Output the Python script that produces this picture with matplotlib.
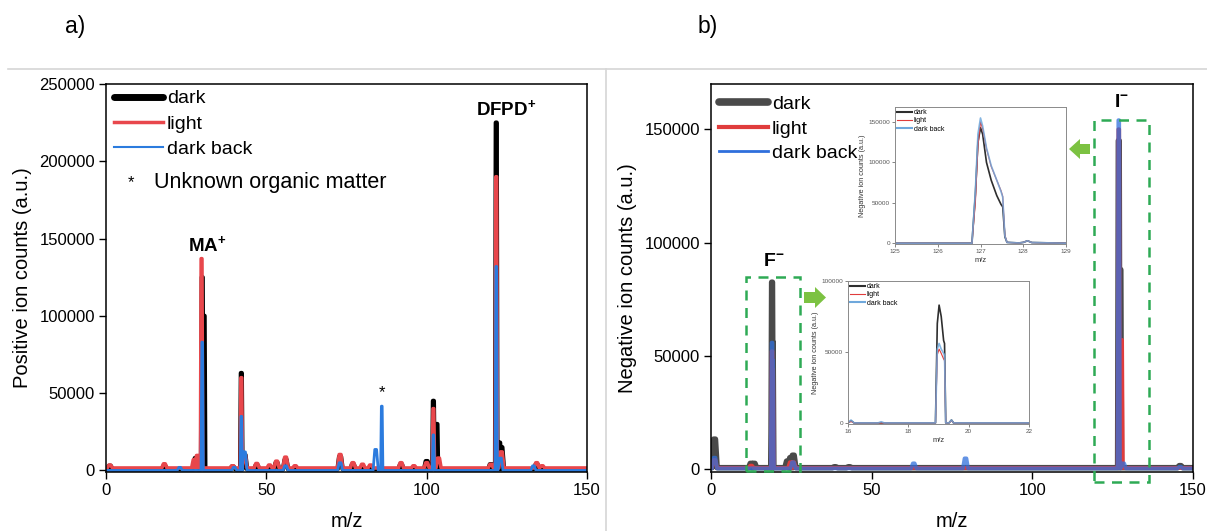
import matplotlib
matplotlib.use("Agg")
import matplotlib.pyplot as plt
from matplotlib.patches import Rectangle, Polygon
from matplotlib.lines import Line2D
from matplotlib.transforms import IdentityTransform

plt.rcParams['font.family'] = ['Liberation Sans', 'DejaVu Sans']
plt.rcParams['mathtext.fontset'] = 'custom'
plt.rcParams['mathtext.rm'] = 'Liberation Sans'
plt.rcParams['mathtext.bf'] = 'Liberation Sans:bold'

# ---------------- data: positive ion spectrum (panel a) ----------------
pos_dark_mz     = [1.2, 18.2, 28.0, 30.0, 30.6, 39.5, 42.2, 43.2, 47.0, 53.2, 56.0, 73.0, 77.0, 92.0, 100.0, 102.1, 103.2, 120.0, 121.7, 122.6, 123.3, 134.3]
pos_dark_counts = [3000, 3000, 8000, 125000, 100000, 2500, 63000, 10000, 3500, 5000, 7000, 9000, 4000, 4000, 6000, 45000, 30000, 4000, 225000, 18000, 15000, 4000]
pos_light_mz     = [1.2, 18.2, 27.5, 28.5, 29.8, 39.5, 42.2, 43.2, 47.0, 51.0, 53.2, 56.0, 59.0, 73.0, 77.0, 80.0, 82.5, 92.0, 96.0, 100.0, 102.1, 103.7, 120.0, 121.7, 123.3, 134.3, 136.0]
pos_light_counts = [3500, 4300, 7000, 9700, 137000, 3000, 60000, 10000, 4500, 3500, 6000, 8600, 3000, 10300, 5000, 4000, 3500, 5000, 3000, 5000, 40000, 8000, 4000, 190000, 12000, 5000, 3000]
pos_back_mz     = [23.0, 30.0, 40.0, 42.2, 43.2, 56.0, 73.0, 84.1, 86.0, 102.1, 121.7, 123.0, 133.3]
pos_back_counts = [2000, 83000, 2000, 35000, 12000, 3000, 5000, 13600, 41600, 23000, 132000, 8000, 3000]
pos_baseline = {'dark': 800, 'light': 1600, 'back': 0}

# ---------------- data: negative ion spectrum (panel b) ----------------
neg_dark_mz     = [1.1, 12.5, 13.4, 19.0, 19.2, 23.8, 24.8, 25.6, 38.6, 43.0, 126.9, 127.4, 146.0]
neg_dark_counts = [13200, 2500, 2500, 82500, 56000, 3500, 5000, 6100, 1000, 1000, 145000, 88000, 1500]
neg_light_mz     = [1.1, 12.5, 19.0, 19.2, 24.8, 25.6, 126.9, 127.8]
neg_light_counts = [4000, 1500, 52000, 44000, 3000, 3000, 150000, 57000]
neg_back_mz     = [1.1, 19.0, 19.2, 25.5, 63.1, 79.2, 126.9, 128.3, 146.0]
neg_back_counts = [5000, 55800, 48000, 3000, 2500, 4700, 154000, 2500, 1000]
neg_baseline = {'dark': 600, 'light': 500, 'back': 300}

# ---------------- inset: I- region ----------------
insI_mz          = [125.0, 126.80, 126.88, 126.94, 127.00, 127.05, 127.14, 127.25, 127.38, 127.48, 127.52, 127.57, 127.62, 127.9, 128.0, 128.1, 128.2, 129.0]
insI_dark_counts = [0, 0, 60000, 125000, 143000, 135000, 100000, 78000, 59000, 48000, 45000, 8000, 1000, 300, 1000, 3000, 800, 0]
insI_light_counts= [0, 0, 50000, 120000, 150000, 142000, 117000, 95000, 78000, 65000, 58000, 10000, 1000, 300, 1000, 3000, 800, 0]
insI_back_counts = [0, 0, 65000, 135000, 155000, 145000, 118000, 96000, 78000, 64000, 57000, 9000, 1000, 300, 1000, 3000, 800, 0]

# ---------------- inset: F- region ----------------
insF_mz          = [16.0, 16.1, 16.2, 17.0, 17.1, 17.2, 18.9, 18.96, 19.02, 19.09, 19.17, 19.2, 19.24, 19.35, 19.43, 19.5, 22.0]
insF_dark_counts = [0, 1500, 0, 0, 0, 0, 0, 70000, 83000, 75000, 58000, 56000, 0, 0, 2000, 0, 0]
insF_light_counts= [0, 1000, 0, 0, 0, 0, 0, 48000, 52000, 49000, 45000, 44000, 0, 0, 1500, 0, 0]
insF_back_counts = [0, 2000, 0, 0, 800, 0, 0, 52000, 56000, 52000, 49000, 48000, 0, 0, 2000, 0, 0]

series_labels = ['dark', 'light', 'dark back']


def profile(mz, counts, base, xmax=150.0):
    """Turn a peak list into a line that returns to the baseline between peaks."""
    xs, ys = [0.0], [base]
    for m, c in sorted(zip(mz, counts)):
        w = 0.35 if c > 20000 else 0.8
        xs += [m - w, m - w * 0.35, m + w * 0.35, m + w]
        ys += [base, c, c, base]
    xs.append(xmax)
    ys.append(base)
    return xs, ys


W, H = 1207, 531
fig = plt.figure(figsize=(W / 100, H / 100), dpi=100)

def fx(px):
    return px / W

def fy(py):
    return 1 - py / H

# separators and panel letters
fig.add_artist(Line2D([fx(8), 1], [fy(69), fy(69)], color='#d6d6d6', lw=1.2))
fig.add_artist(Line2D([fx(606), fx(606)], [fy(69), 0], color='#d6d6d6', lw=1.2))
fig.text(fx(75), fy(27), 'a)', fontsize=16.5, ha='center', va='center')
fig.text(fx(708), fy(27), 'b)', fontsize=16.5, ha='center', va='center')

tick_fs = 12
lab_fs = 14.5

def style_main(ax):
    ax.tick_params(direction='out', length=5, width=1, labelsize=tick_fs, pad=3,
                   top=False, right=False)
    for s in ax.spines.values():
        s.set_linewidth(1.1)
    ax.ticklabel_format(axis='y', style='plain', useOffset=False)
    ax.set_xlim(0, 150)
    ax.set_xticks([0, 50, 100, 150])
    ax.set_xlabel('m/z', fontsize=lab_fs, labelpad=10)

# ---------------- panel a ----------------
axa = fig.add_axes([fx(106), fy(472), fx(587) - fx(106), fy(84) - fy(472)])
c_dark_a, c_light_a, c_back_a = '#000000', '#e8474c', '#2b7bde'
x, y = profile(pos_dark_mz, pos_dark_counts, pos_baseline['dark'])
axa.plot(x, y, color=c_dark_a, lw=3.2, solid_joinstyle='round')
x, y = profile(pos_light_mz, pos_light_counts, pos_baseline['light'])
axa.plot(x, y, color=c_light_a, lw=2.6, solid_joinstyle='round')
x, y = profile(pos_back_mz, pos_back_counts, pos_baseline['back'])
axa.plot(x, y, color=c_back_a, lw=2.0, solid_joinstyle='round')
axa.set_ylim(-1000, 250000)
axa.set_yticks([0, 50000, 100000, 150000, 200000, 250000])
style_main(axa)
axa.set_ylabel('Positive ion counts (a.u.)', fontsize=lab_fs, labelpad=5)

hands_a = [Line2D([], [], color=c_dark_a, lw=5, solid_capstyle='round'),
           Line2D([], [], color=c_light_a, lw=2.5),
           Line2D([], [], color=c_back_a, lw=1.5)]
axa.legend(hands_a, series_labels, loc='upper left', bbox_to_anchor=(0.005, 1.0),
           frameon=False, fontsize=14, handlelength=2.5, handletextpad=0.2,
           labelspacing=0.4, borderpad=0.3, borderaxespad=0)
axa.text(0.052, 0.745, '*', transform=axa.transAxes, fontsize=12, ha='center', va='center')
axa.text(0.1, 0.745, 'Unknown organic matter', transform=axa.transAxes, fontsize=15.5,
         ha='left', va='center')
axa.text(31.5, 146000, r'$\mathbf{MA^{+}}$', fontsize=13.5, ha='center', va='center')
axa.text(124.8, 234000, r'$\mathbf{DFPD^{+}}$', fontsize=13.5, ha='center', va='center')
axa.text(86.2, 50400, '*', fontsize=12, ha='center', va='center')

# ---------------- panel b ----------------
axb = fig.add_axes([fx(711), fy(472), fx(1193) - fx(711), fy(84) - fy(472)])
c_dark_b, c_light_b, c_back_b = '#4a4a4a', '#e03c3c', '#2f6fdc'
x, y = profile(neg_dark_mz, neg_dark_counts, neg_baseline['dark'])
axb.plot(x, y, color=c_dark_b, lw=4.0, solid_joinstyle='round')
x, y = profile(neg_light_mz, neg_light_counts, neg_baseline['light'])
axb.plot(x, y, color=c_light_b, lw=2.8, solid_joinstyle='round')
x, y = profile(neg_back_mz, neg_back_counts, neg_baseline['back'])
axb.plot(x, y, color=c_back_b, lw=2.8, alpha=0.75, solid_joinstyle='round')
axb.set_ylim(-1300, 170000)
axb.set_yticks([0, 50000, 100000, 150000])
style_main(axb)
axb.set_ylabel('Negative ion counts (a.u.)', fontsize=lab_fs, labelpad=5)

hands_b = [Line2D([], [], color=c_dark_b, lw=5.5, solid_capstyle='round'),
           Line2D([], [], color=c_light_b, lw=3),
           Line2D([], [], color=c_back_b, lw=2)]
axb.legend(hands_b, series_labels, loc='upper left', bbox_to_anchor=(0.005, 0.985),
           frameon=False, fontsize=14, handlelength=2.5, handletextpad=0.2,
           labelspacing=0.35, borderpad=0.3, borderaxespad=0)

green = '#2eaa55'
axb.add_patch(Rectangle((10.8, -1000), 17.0, 86000, fill=False, ec=green, lw=1.8,
                        ls=(0, (4, 3)), clip_on=False, zorder=5))
axb.add_patch(Rectangle((119.1, -5700), 17.1, 159700, fill=False, ec=green, lw=1.8,
                        ls=(0, (4, 3)), clip_on=False, zorder=5))
axb.text(19.4, 91500, r'$\mathbf{F^{-}}$', fontsize=14, ha='center', va='center')
axb.text(127.8, 162000, r'$\mathbf{I^{-}}$', fontsize=14, ha='center', va='center')

# arrows (pixel coordinates)
agreen = '#7cc242'
def arrow_poly(pts):
    fig.add_artist(Polygon([(px, H - py) for px, py in pts], closed=True,
                           transform=IdentityTransform(), fc=agreen, ec='none'))
arrow_poly([(804, 292), (815, 292), (815, 287), (826, 297.5), (815, 308), (815, 303), (804, 303)])
arrow_poly([(1090, 144), (1080, 144), (1080, 139), (1069, 149), (1080, 159), (1080, 154), (1090, 154)])

# ---------------- insets ----------------
ins_fs = 4.6
def style_inset(ax):
    for s in ax.spines.values():
        s.set_color('#8a8a8a')
        s.set_linewidth(0.7)
    ax.tick_params(direction='out', length=2, width=0.5, labelsize=ins_fs, pad=1.5,
                   colors='#555555')
    ax.ticklabel_format(axis='y', style='plain', useOffset=False)
    ax.set_xlabel('m/z', fontsize=5.5, labelpad=2, color='#333333')
    ax.set_ylabel('Negative ion counts (a.u.)', fontsize=5.2, labelpad=2, color='#333333')

ins_colors = ['#2e2e2e', '#e03c3c', '#6fa8dc']

axi = fig.add_axes([fx(895), fy(244), fx(1066) - fx(895), fy(107) - fy(244)])
axi.plot(insI_mz, insI_dark_counts, color=ins_colors[0], lw=1.2)
axi.plot(insI_mz, insI_light_counts, color=ins_colors[1], lw=0.8)
axi.plot(insI_mz, insI_back_counts, color=ins_colors[2], lw=1.2, alpha=0.85)
axi.set_xlim(125, 129)
axi.set_xticks([125, 126, 127, 128, 129])
axi.set_ylim(-1000, 168600)
axi.set_yticks([0, 50000, 100000, 150000])
style_inset(axi)
axi.legend([Line2D([], [], color=c, lw=w) for c, w in zip(ins_colors, [1.5, 0.8, 1.5])],
           series_labels, loc='upper left', frameon=False, fontsize=5,
           handlelength=2.2, handletextpad=0.2, labelspacing=0.2, borderpad=0.2,
           borderaxespad=0.1)

axf = fig.add_axes([fx(848), fy(424), fx(1029) - fx(848), fy(281) - fy(424)])
axf.plot(insF_mz, insF_dark_counts, color=ins_colors[0], lw=1.2)
axf.plot(insF_mz, insF_light_counts, color=ins_colors[1], lw=0.8)
axf.plot(insF_mz, insF_back_counts, color=ins_colors[2], lw=1.2, alpha=0.85)
axf.set_xlim(16, 22)
axf.set_xticks([16, 18, 20, 22])
axf.set_ylim(-800, 100000)
axf.set_yticks([0, 50000, 100000])
style_inset(axf)
axf.legend([Line2D([], [], color=c, lw=w) for c, w in zip(ins_colors, [1.5, 0.8, 1.5])],
           series_labels, loc='upper left', frameon=False, fontsize=5,
           handlelength=2.2, handletextpad=0.2, labelspacing=0.2, borderpad=0.2,
           borderaxespad=0.1)

fig.savefig('out.png', dpi=100)
